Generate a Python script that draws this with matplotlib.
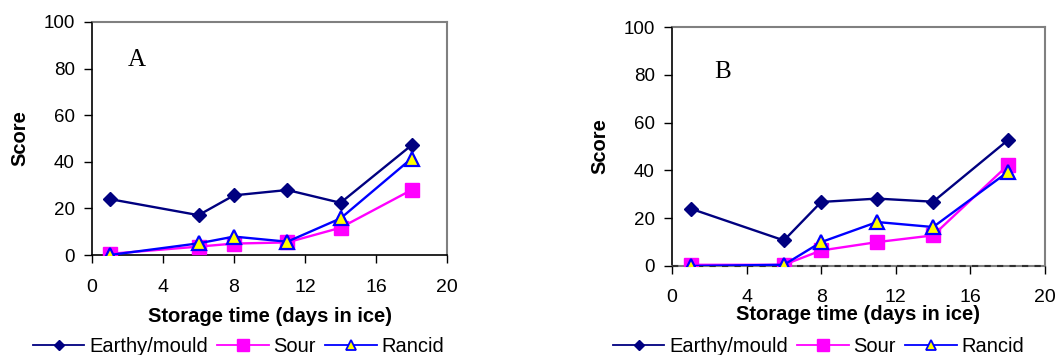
import matplotlib
matplotlib.use("Agg")
import matplotlib.pyplot as plt
from matplotlib.lines import Line2D

plt.rcParams['font.family'] = ['Liberation Sans', 'DejaVu Sans']

days = [1, 6, 8, 11, 14, 18]

# Panel A scores
earthy_a = [24.0, 17.1, 25.6, 27.9, 22.4, 47.1]
sour_a = [0.5, 3.6, 4.9, 5.4, 11.7, 27.9]
rancid_a = [0.0, 5.0, 7.9, 5.7, 15.7, 41.4]

# Panel B scores
earthy_b = [24.0, 10.7, 26.8, 28.2, 26.9, 52.6]
sour_b = [0.5, 0.5, 6.5, 10.0, 12.8, 42.1]
rancid_b = [0.0, 0.5, 10.0, 18.4, 16.3, 39.3]

series_names = ["Earthy/mould", "Sour", "Rancid"]
x_ticks = [0, 4, 8, 12, 16, 20]
y_ticks = [0, 20, 40, 60, 80, 100]

NAVY = "#000080"
MAGENTA = "#FF00FF"
BLUE = "#0000FF"
YELLOW = "#FFFF00"
GRAY = "#808080"

W, H = 1059, 355
fig = plt.figure(figsize=(W / 100, H / 100), dpi=100)


def px_axes(left, right, top, bottom):
    return fig.add_axes([left / W, 1 - bottom / H, (right - left) / W, (bottom - top) / H])


def draw_panel(ax, earthy, sour, rancid, letter, letter_xy, tick_pad, xlabel_y, ylabel_x, legend_x, dashed_zero):
    ax.plot(days, earthy, color=NAVY, lw=1.7, marker="D", ms=7.2,
            mfc=NAVY, mec=NAVY, zorder=3)
    ax.plot(days, sour, color=MAGENTA, lw=1.7, marker="s", ms=10,
            mfc=MAGENTA, mec=MAGENTA, zorder=4)
    ax.plot(days, rancid, color=BLUE, lw=1.7, marker="^", ms=10,
            mfc=YELLOW, mec=BLUE, mew=1.6, zorder=5)
    ax.set_xlim(0, 20)
    ax.set_ylim(0, 100)
    ax.set_xticks(x_ticks)
    ax.set_yticks(y_ticks)
    ax.tick_params(axis="both", direction="out", length=5.5, width=1, color="black")
    ax.tick_params(axis="x", pad=tick_pad, labelsize=14)
    ax.tick_params(axis="y", pad=7, labelsize=13.5)
    for s in ("top", "right"):
        ax.spines[s].set_color(GRAY)
        ax.spines[s].set_linewidth(1.5)
    ax.spines["left"].set_color("black")
    ax.spines["left"].set_linewidth(1.2)
    if dashed_zero:
        ax.spines["bottom"].set_color(GRAY)
        ax.spines["bottom"].set_linewidth(1.5)
        ax.axhline(0, color="#303030", lw=1.5, ls=(0, (3, 3)), zorder=2, clip_on=False)
    else:
        ax.spines["bottom"].set_color("black")
        ax.spines["bottom"].set_linewidth(1.2)
    for sp in ax.spines.values():
        sp.set_zorder(1)

    fig.text(letter_xy[0], letter_xy[1], letter,
             fontsize=18, family=["Liberation Serif", "DejaVu Serif"],
             ha="center", va="center")
    pos = ax.get_position()
    fig.text(pos.x0 + pos.width / 2, 1 - xlabel_y / H,
             "Storage time (days in ice)", fontsize=14.5, fontweight="bold",
             ha="center", va="center")
    fig.text(ylabel_x / W, pos.y0 + pos.height / 2,
             "Score", fontsize=14.5, fontweight="bold", rotation=90,
             ha="center", va="center")

    handles = [
        Line2D([], [], color=NAVY, lw=1.3, marker="D", ms=5.5, mfc=NAVY, mec=NAVY),
        Line2D([], [], color=MAGENTA, lw=1.3, marker="s", ms=8.5, mfc=MAGENTA, mec=MAGENTA),
        Line2D([], [], color=BLUE, lw=1.3, marker="^", ms=7, mfc=YELLOW, mec=BLUE, mew=1.3),
    ]
    fig.legend(handles, series_names, loc="center left",
               bbox_to_anchor=(legend_x / W, 1 - 346.5 / H),
               ncol=3, frameon=False, fontsize=14.5, handlelength=2.55,
               handletextpad=0.25, columnspacing=0.45, borderaxespad=0, borderpad=0)


ax_a = px_axes(92, 447, 22, 255)
draw_panel(ax_a, earthy_a, sour_a, rancid_a, "A", (137 / W, 1 - 60 / H),
           tick_pad=12, xlabel_y=317, ylabel_x=20, legend_x=33, dashed_zero=False)

ax_b = px_axes(672, 1045, 27, 266)
draw_panel(ax_b, earthy_b, sour_b, rancid_b, "B", (723 / W, 1 - 72 / H),
           tick_pad=11, xlabel_y=315, ylabel_x=600, legend_x=613, dashed_zero=True)

fig.savefig("out.png", dpi=100)
